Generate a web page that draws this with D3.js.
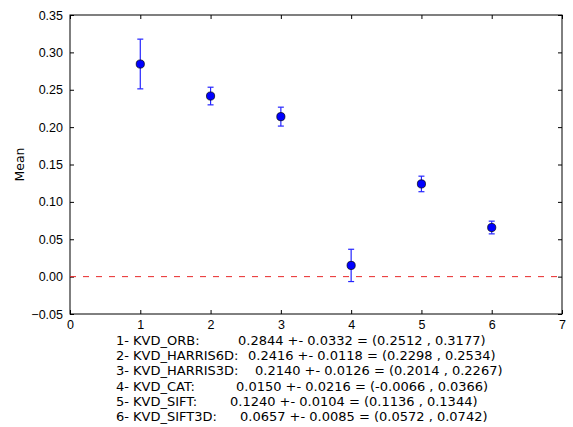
<!DOCTYPE html>
<html>
<head>
<meta charset="utf-8">
<script src="https://cdn.jsdelivr.net/npm/d3@7/dist/d3.min.js"></script>
<style>
  html, body { margin: 0; padding: 0; background: #fff; }
  svg { display: block; font-family: "DejaVu Sans", sans-serif; }
</style>
</head>
<body>
<svg id="chart" width="573" height="427"></svg>
<script>
// Descriptor names and their mean scores with confidence half-widths
const names = ["KVD_ORB", "KVD_HARRIS6D", "KVD_HARRIS3D", "KVD_CAT", "KVD_SIFT", "KVD_SIFT3D"];
const means = [0.2844, 0.2416, 0.2140, 0.0150, 0.1240, 0.0657];
const errs  = [0.0332, 0.0118, 0.0126, 0.0216, 0.0104, 0.0085];
const lows  = [0.2512, 0.2298, 0.2014, -0.0066, 0.1136, 0.0572];
const highs = [0.3177, 0.2534, 0.2267, 0.0366, 0.1344, 0.0742];

const xTicks = [0, 1, 2, 3, 4, 5, 6, 7];
const yTicks = [-0.05, 0.00, 0.05, 0.10, 0.15, 0.20, 0.25, 0.30, 0.35];

const svg = d3.select("#chart");
const plot = { left: 70, right: 562, top: 15, bottom: 314 };

const x = d3.scaleLinear().domain([0, 7]).range([plot.left, plot.right]);
const y = d3.scaleLinear().domain([-0.05, 0.35]).range([plot.bottom, plot.top]);

// Tick labels use a true minus sign; the summary text uses a plain hyphen
const fmtY = d3.format(".2f");
const plain = d3.formatLocale({ decimal: ".", thousands: ",", grouping: [3], currency: ["", ""], minus: "-" });
const f4 = plain.format(".4f");

// Axes with inward ticks on all four sides
const tickLen = 4;
const axisStyle = g => {
  g.select(".domain").remove();
  g.selectAll("line").attr("stroke", "#000").attr("stroke-width", 1);
  g.selectAll("text").attr("fill", "#000").attr("font-size", 12.5);
};

svg.append("g").attr("transform", `translate(0,${plot.bottom})`)
  .call(d3.axisBottom(x).tickValues(xTicks).tickFormat(d3.format("d"))
        .tickSizeInner(-tickLen).tickSizeOuter(0).tickPadding(6))
  .call(axisStyle);
svg.append("g").attr("transform", `translate(0,${plot.top})`)
  .call(d3.axisTop(x).tickValues(xTicks).tickFormat("").tickSizeInner(-tickLen).tickSizeOuter(0))
  .call(axisStyle);
svg.append("g").attr("transform", `translate(${plot.left},0)`)
  .call(d3.axisLeft(y).tickValues(yTicks).tickFormat(fmtY)
        .tickSizeInner(-tickLen).tickSizeOuter(0).tickPadding(7))
  .call(axisStyle);
svg.append("g").attr("transform", `translate(${plot.right},0)`)
  .call(d3.axisRight(y).tickValues(yTicks).tickFormat("").tickSizeInner(-tickLen).tickSizeOuter(0))
  .call(axisStyle);

// Frame
svg.append("rect")
  .attr("x", plot.left).attr("y", plot.top)
  .attr("width", plot.right - plot.left).attr("height", plot.bottom - plot.top)
  .attr("fill", "none").attr("stroke", "#000").attr("stroke-width", 1);

// Zero reference line
svg.append("line")
  .attr("x1", x(0)).attr("x2", x(7))
  .attr("y1", y(0)).attr("y2", y(0))
  .attr("stroke", "#e8282a").attr("stroke-width", 1)
  .attr("stroke-dasharray", "6,7");

// Error bars
const idx = d3.range(means.length);
const bars = svg.append("g").attr("stroke", "#2525ff").attr("stroke-width", 1.2);
bars.selectAll(".stem").data(idx).join("line")
  .attr("x1", i => x(i + 1)).attr("x2", i => x(i + 1))
  .attr("y1", i => y(lows[i])).attr("y2", i => y(highs[i]));
bars.selectAll(".capLo").data(idx).join("line")
  .attr("x1", i => x(i + 1) - 3).attr("x2", i => x(i + 1) + 3)
  .attr("y1", i => y(lows[i])).attr("y2", i => y(lows[i]));
bars.selectAll(".capHi").data(idx).join("line")
  .attr("x1", i => x(i + 1) - 3).attr("x2", i => x(i + 1) + 3)
  .attr("y1", i => y(highs[i])).attr("y2", i => y(highs[i]));

// Mean markers
svg.append("g").selectAll("circle").data(idx).join("circle")
  .attr("cx", i => x(i + 1)).attr("cy", i => y(means[i]))
  .attr("r", 4.1)
  .attr("fill", "#0000ff").attr("stroke", "#000").attr("stroke-width", 0.7);

// Y label
svg.append("text")
  .attr("transform", `translate(24,${(plot.top + plot.bottom) / 2}) rotate(-90)`)
  .attr("text-anchor", "middle")
  .attr("font-size", 12.5)
  .text("Mean");

// Summary lines beneath the axes
const valueX = [238, 248, 255, 236, 230, 240];
const summary = svg.append("g").attr("font-size", 13).attr("fill", "#000");
idx.forEach(i => {
  const yy = 345 + i * 15.2;
  summary.append("text").attr("x", 116).attr("y", yy)
    .text(`${i + 1}- ${names[i]}:`);
  summary.append("text").attr("x", valueX[i]).attr("y", yy)
    .text(`${f4(means[i])} +- ${f4(errs[i])} = (${f4(lows[i])} , ${f4(highs[i])})`);
});
</script>
</body>
</html>
